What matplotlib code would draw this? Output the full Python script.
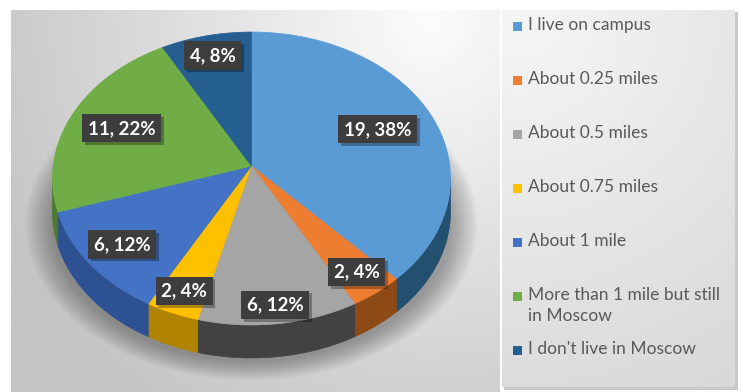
import textwrap

import numpy as np
import matplotlib
matplotlib.use("Agg")
import matplotlib.pyplot as plt
import matplotlib.patheffects as pe
from matplotlib.patches import Polygon, Rectangle, Ellipse

# data
categories = [
    "I live on campus",
    "About 0.25 miles",
    "About 0.5 miles",
    "About 0.75 miles",
    "About 1 mile",
    "More than 1 mile but still in Moscow",
    "I don't live in Moscow",
]
counts = [19, 2, 6, 2, 6, 11, 4]

# styling
top_colors = ["#5B9BD5", "#ED7D31", "#A5A5A5", "#FFC000", "#4472C4", "#70AD47", "#255E91"]
side_colors = ["#24506F", "#8E4A14", "#424242", "#B08400", "#2E5193", "#4C7A30", "#173F62"]
label_radii = [0.70, 0.85, 0.89, 0.86, 0.81, 0.72, 0.84]

W, H = 743, 392
fig = plt.figure(figsize=(W / 100, H / 100), dpi=100)
ax = fig.add_axes([0, 0, 1, 1])


def gradient(x0, x1, y0, y1, gx, gy, scale, lo, hi, z=0):
    xs = np.linspace(x0, x1, 240)
    ys = np.linspace(y0, y1, 240)
    X, Y = np.meshgrid(xs, ys)
    d = np.clip(np.hypot(X - gx, Y - gy) / scale, 0, 1)
    v = (hi - (hi - lo) * d) / 255.0
    ax.imshow(np.dstack([v, v, v]), extent=(x0, x1, y1, y0), origin="upper",
              aspect="auto", interpolation="bilinear", zorder=z)


# chart area background
gradient(11, 500, 10, 392, 430, 20, 480, 196, 252)
# legend box with a faint shadow
ax.add_patch(Rectangle((504, 12), 234, 378, fc="#c9c9c9", ec="none", zorder=0.5))
gradient(502, 735, 10, 387, 520, 20, 420, 216, 246, z=1)

# pie geometry (perspective disc)
cx, cy = 251.5, 166.0
A, B, k = 198.3, 145.4, 0.0853
depth = 33


def rim(theta, r=1.0):
    t = np.radians(theta)
    den = 1 + k * r * np.sin(t)
    return cx + A * r * np.cos(t) / den, cy - B * r * np.sin(t) / den


# soft shadow below the pie
for i in range(14):
    grow = i * 2.0
    ax.add_patch(Ellipse((cx, 224), 2 * (200 + grow), 2 * (138 + grow * 0.7),
                         fc="black", ec="none", alpha=0.022, zorder=2))

total = sum(counts)
bounds = 90 - 360 * np.concatenate([[0], np.cumsum(counts)]) / total
sil = np.degrees(np.arcsin(k))
front_lo, front_hi = -180 + sil, -sil

# side walls
for i in range(len(counts)):
    t1, t2 = bounds[i], bounds[i + 1]
    lo, hi = max(t2, front_lo), min(t1, front_hi)
    if lo >= hi:
        continue
    ts = np.linspace(hi, lo, 80)
    xs, ys = rim(ts)
    pts = np.column_stack([np.r_[xs, xs[::-1]], np.r_[ys, ys[::-1] + depth]])
    ax.add_patch(Polygon(pts, closed=True, fc=side_colors[i], ec=side_colors[i],
                         lw=0.5, zorder=3))

# top faces
for i in range(len(counts)):
    ts = np.linspace(bounds[i], bounds[i + 1], 120)
    xs, ys = rim(ts)
    pts = np.column_stack([np.r_[cx, xs], np.r_[cy, ys]])
    ax.add_patch(Polygon(pts, closed=True, fc=top_colors[i], ec=top_colors[i],
                         lw=0.5, zorder=4))

# data labels
for i, c in enumerate(counts):
    mid = (bounds[i] + bounds[i + 1]) / 2
    x, y = rim(mid, label_radii[i])
    pct = round(100 * c / total)
    t = ax.text(x, y, f"{c}, {pct}%", ha="center", va="center", fontsize=13.5,
                fontweight="bold", family="Lato", color="white", zorder=6,
                bbox=dict(boxstyle="square,pad=0.3", fc="#3d3d3d", ec="none"))
    t.get_bbox_patch().set_path_effects(
        [pe.withSimplePatchShadow(offset=(2, -2), shadow_rgbFace="black", alpha=0.3)])

# legend
for i, name in enumerate(categories):
    y = 26 + 54 * i
    ax.add_patch(Rectangle((513, y - 4.5), 9, 9, fc=top_colors[i], ec="none", zorder=3))
    ax.text(528, y - 9.5, textwrap.fill(name, 26), ha="left", va="top", fontsize=12.5,
            family="Lato", color="#595959", linespacing=1.4, zorder=3)

ax.set_xlim(0, W)
ax.set_ylim(H, 0)
ax.axis("off")
fig.savefig("out.png", dpi=100)
